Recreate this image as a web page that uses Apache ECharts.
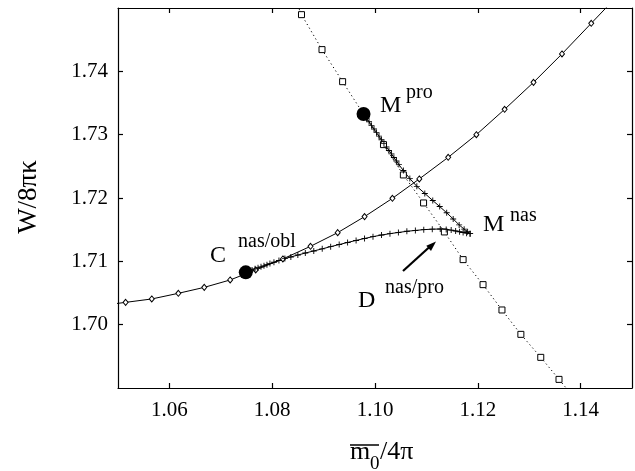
<!DOCTYPE html>
<html><head><meta charset="utf-8">
<script src="https://cdn.jsdelivr.net/npm/echarts@6/dist/echarts.min.js"></script>
<style>html,body{margin:0;padding:0;background:#fff}#c{width:635px;height:471px}</style>
</head><body><div id="c"></div>
<script>
const xTicks = [1.06, 1.08, 1.10, 1.12, 1.14];
const yTicks = [1.70, 1.71, 1.72, 1.73, 1.74];

// solid curve with diamonds (first and last entries: where the curve leaves the frame)
const diamondX = [1.0464, 1.05148, 1.05657, 1.06174, 1.06678, 1.07182, 1.07679, 1.08208, 1.08745, 1.09274, 1.09797, 1.10339, 1.10862, 1.11424, 1.11972, 1.12522, 1.13084, 1.13638, 1.14207, 1.1477];
const diamondY = [1.7030, 1.70352, 1.70406, 1.70495, 1.70589, 1.70706, 1.70864, 1.71038, 1.71237, 1.71453, 1.71706, 1.71995, 1.72301, 1.72642, 1.73000, 1.73400, 1.73826, 1.74275, 1.74758, 1.75236];

// dotted curve with squares (first and last entries: where the curve leaves the frame)
const squareX = [1.0840, 1.08570, 1.08969, 1.09370, 1.09771, 1.10165, 1.10552, 1.10945, 1.11350, 1.11714, 1.12102, 1.12470, 1.12838, 1.13225, 1.13580, 1.1390];
const squareY = [1.75227, 1.74895, 1.74343, 1.73837, 1.73332, 1.72843, 1.72364, 1.71922, 1.71464, 1.71027, 1.70632, 1.70232, 1.69847, 1.69484, 1.69136, 1.68822];

// crosses: branch M^pro -> M^nas
const upperX = [1.09777, 1.09835, 1.09884, 1.09932, 1.09981, 1.10029, 1.10078, 1.10126, 1.10174, 1.10223, 1.10271, 1.10320, 1.10368, 1.10417, 1.10465, 1.10552, 1.10678, 1.10814, 1.10969, 1.11124, 1.11259, 1.11395, 1.11521, 1.11637, 1.11734, 1.11802, 1.11850];
const upperY = [1.73327, 1.73259, 1.73203, 1.73146, 1.73089, 1.73032, 1.72977, 1.72920, 1.72863, 1.72808, 1.72751, 1.72696, 1.72639, 1.72584, 1.72527, 1.72434, 1.72306, 1.72184, 1.72072, 1.71960, 1.71865, 1.71766, 1.71669, 1.71575, 1.71508, 1.71466, 1.71437];

// crosses: branch C -> M^nas
const lowerX = [1.07486, 1.07550, 1.07608, 1.07666, 1.07724, 1.07782, 1.07840, 1.07898, 1.07956, 1.08034, 1.08131, 1.08247, 1.08363, 1.08499, 1.08644, 1.08809, 1.08973, 1.09138, 1.09303, 1.09467, 1.09632, 1.09797, 1.09961, 1.10126, 1.10291, 1.10455, 1.10620, 1.10785, 1.10949, 1.11114, 1.11269, 1.11385, 1.11482, 1.11569, 1.11646, 1.11714, 1.11782, 1.11850];
const lowerY = [1.70826, 1.70848, 1.70864, 1.70881, 1.70897, 1.70913, 1.70929, 1.70948, 1.70964, 1.70986, 1.71012, 1.71043, 1.71069, 1.71099, 1.71131, 1.71164, 1.71197, 1.71232, 1.71265, 1.71298, 1.71330, 1.71361, 1.71390, 1.71415, 1.71437, 1.71456, 1.71474, 1.71488, 1.71500, 1.71508, 1.71510, 1.71504, 1.71493, 1.71480, 1.71467, 1.71456, 1.71445, 1.71437];

// big filled dots: M^pro, C^nas/obl
const dotX = [1.09777, 1.07486];
const dotY = [1.73327, 1.70826];

const SERIF = '"Liberation Serif","DejaVu Serif",serif';

function pairs(xs, ys, hideEnds) {
  return xs.map((x, i) => {
    const v = [x, ys[i]];
    if (hideEnds && (i === 0 || i === xs.length - 1)) return {value: v, symbol: 'none'};
    return v;
  });
}

const crossPath = 'path://M0,3.4h8v1.2h-8zM3.4,0h1.2v8h-1.2z';

const axisCommon = {
  type: 'value',
  axisLine: {show: true, onZero: false, lineStyle: {color: '#000', width: 1.2}},
  splitLine: {show: false},
  axisTick: {show: true, inside: true, length: 5, lineStyle: {color: '#000', width: 1.2}},
};

const chart = echarts.init(document.getElementById('c'), null, {renderer: 'canvas'});
chart.setOption({
  animation: false,
  backgroundColor: '#fff',
  grid: {left: 118, top: 8, right: 3, bottom: 83, containLabel: false},
  xAxis: [
    Object.assign({}, axisCommon, {
      position: 'bottom', min: 1.05, max: 1.15,
      axisTick: Object.assign({}, axisCommon.axisTick, {customValues: xTicks}),
      axisLabel: {customValues: xTicks, margin: 12, color: '#000', fontFamily: SERIF, fontSize: 21,
        formatter: v => v.toFixed(2)}
    }),
    Object.assign({}, axisCommon, {
      position: 'top', min: 1.05, max: 1.15,
      axisTick: Object.assign({}, axisCommon.axisTick, {customValues: xTicks}),
      axisLabel: {show: false}
    })
  ],
  yAxis: [
    Object.assign({}, axisCommon, {
      position: 'left', min: 1.69, max: 1.75,
      axisTick: Object.assign({}, axisCommon.axisTick, {customValues: yTicks}),
      axisLabel: {customValues: yTicks, margin: 10, color: '#000', fontFamily: SERIF, fontSize: 21,
        formatter: v => v.toFixed(2)}
    }),
    Object.assign({}, axisCommon, {
      position: 'right', min: 1.69, max: 1.75,
      axisTick: Object.assign({}, axisCommon.axisTick, {customValues: yTicks}),
      axisLabel: {show: false}
    })
  ],
  series: [
    {
      type: 'line', data: pairs(diamondX, diamondY, true), clip: true, showAllSymbol: true,
      symbol: 'diamond', symbolSize: [5, 6],
      lineStyle: {color: '#000', width: 1},
      itemStyle: {color: '#fff', borderColor: '#000', borderWidth: 1}
    },
    {
      type: 'line', data: pairs(squareX, squareY, true), clip: true, showAllSymbol: true,
      symbol: 'rect', symbolSize: 6,
      lineStyle: {color: '#000', width: 1, type: [1.2, 3]},
      itemStyle: {color: '#fff', borderColor: '#000', borderWidth: 1}
    },
    {
      type: 'line', data: pairs(upperX, upperY, false), clip: true, showAllSymbol: true,
      symbol: crossPath, symbolSize: 6,
      lineStyle: {color: '#000', width: 1},
      itemStyle: {color: '#000'}
    },
    {
      type: 'line', data: pairs(lowerX, lowerY, false), clip: true, showAllSymbol: true,
      symbol: crossPath, symbolSize: 6,
      lineStyle: {color: '#000', width: 1},
      itemStyle: {color: '#000'}
    },
    {
      type: 'scatter', data: pairs(dotX, dotY, false), symbol: 'circle', symbolSize: 14,
      itemStyle: {color: '#000', opacity: 1, borderWidth: 0}, z: 5
    }
  ],
  graphic: [
    // axis titles
    {type: 'text', x: 29, y: 197, rotation: Math.PI / 2,
      style: {text: 'W/8πκ', font: '27px ' + SERIF, fill: '#000', align: 'center', verticalAlign: 'middle'}},
    {type: 'text', x: 350, y: 452, style: {text: 'm', font: '26px ' + SERIF, fill: '#000', align: 'left', verticalAlign: 'middle'}},
    {type: 'text', x: 370, y: 464, style: {text: '0', font: '19px ' + SERIF, fill: '#000', align: 'left', verticalAlign: 'middle'}},
    {type: 'text', x: 380, y: 452, style: {text: '/4π', font: '26px ' + SERIF, fill: '#000', align: 'left', verticalAlign: 'middle'}},
    {type: 'line', shape: {x1: 350, y1: 445, x2: 379, y2: 445}, style: {stroke: '#000', lineWidth: 1.5}},
    // annotations
    {type: 'text', x: 380, y: 105.5, style: {text: 'M', font: '24px ' + SERIF, fill: '#000', verticalAlign: 'middle'}},
    {type: 'text', x: 406, y: 93, style: {text: 'pro', font: '20px ' + SERIF, fill: '#000', verticalAlign: 'middle'}},
    {type: 'text', x: 483, y: 224.5, style: {text: 'M', font: '24px ' + SERIF, fill: '#000', verticalAlign: 'middle'}},
    {type: 'text', x: 510, y: 216, style: {text: 'nas', font: '20px ' + SERIF, fill: '#000', verticalAlign: 'middle'}},
    {type: 'text', x: 210, y: 255.5, style: {text: 'C', font: '24px ' + SERIF, fill: '#000', verticalAlign: 'middle'}},
    {type: 'text', x: 238, y: 242, style: {text: 'nas/obl', font: '20px ' + SERIF, fill: '#000', verticalAlign: 'middle'}},
    {type: 'text', x: 358, y: 300.5, style: {text: 'D', font: '24px ' + SERIF, fill: '#000', verticalAlign: 'middle'}},
    {type: 'text', x: 385, y: 288, style: {text: 'nas/pro', font: '20px ' + SERIF, fill: '#000', verticalAlign: 'middle'}},
    // arrow
    {type: 'line', shape: {x1: 403, y1: 271, x2: 430, y2: 246.5}, style: {stroke: '#000', lineWidth: 2.2}},
    {type: 'polygon', shape: {points: [[436, 241.5], [431.0, 250.9], [426.3, 245.7]]}, style: {fill: '#000'}}
  ]
});
</script>
</body></html>
